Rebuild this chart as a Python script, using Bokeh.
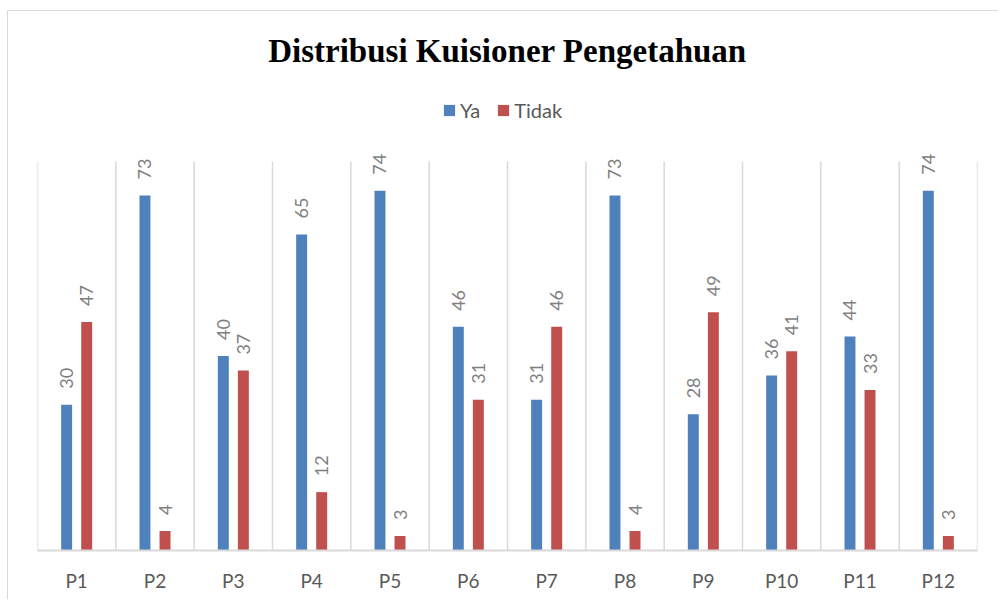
import numpy as np
from bokeh.plotting import figure
from bokeh.models import FixedTicker, ColumnDataSource, Legend, Label
from bokeh.core.properties import value
from bokeh.embed import file_html
from bokeh.resources import INLINE

categories = ["P1", "P2", "P3", "P4", "P5", "P6", "P7", "P8", "P9", "P10", "P11", "P12"]
ya = [30, 73, 40, 65, 74, 46, 31, 73, 28, 36, 44, 74]
tidak = [47, 4, 37, 12, 3, 31, 46, 4, 49, 41, 33, 3]
title_text = "Distribusi Kuisioner Pengetahuan"
y_axis_max = 80

centers = np.arange(len(categories)) + 0.5
bounds = np.arange(len(categories) + 1)
off = 0.128
src = ColumnDataSource(dict(
    xy=centers - off, xt=centers + off,
    ya=ya, tidak=tidak,
    ya_s=[str(v) for v in ya], tidak_s=[str(v) for v in tidak],
))

p = figure(width=991, height=589, x_range=(0, len(categories)), y_range=(0, 110.85),
           output_backend="svg", toolbar_location=None,
           min_border_left=29, min_border_right=22, min_border_top=0, min_border_bottom=50)
p.outline_line_color = None
p.styles = {"margin-left": "7px", "margin-top": "10px",
            "border-left": "1px solid #D9D9D9", "border-top": "1px solid #D9D9D9"}

p.segment(x0=bounds, y0=np.zeros(len(bounds)), x1=bounds, y1=np.full(len(bounds), y_axis_max),
          line_color="#D9D9D9", line_width=1.5)

r1 = p.vbar(x="xy", top="ya", width=0.14, source=src, fill_color="#4F81BD", line_color=None)
r2 = p.vbar(x="xt", top="tidak", width=0.14, source=src, fill_color="#C0504D", line_color=None)

for xcol, scol, ycol in (("xy", "ya_s", "ya"), ("xt", "tidak_s", "tidak")):
    p.text(x=xcol, y=ycol, text=scol, source=src, angle=np.pi / 2, text_align="left",
           text_baseline="middle", y_offset=-16, text_font=value("Lato"),
           text_font_size="18px", text_color="#7F7F7F")

p.yaxis.visible = False
p.ygrid.grid_line_color = None
p.xgrid.grid_line_color = None

ax = p.xaxis[0]
ax.ticker = FixedTicker(ticks=list(centers))
ax.major_label_overrides = {float(c): n for c, n in zip(centers, categories)}
ax.major_tick_line_color = None
ax.minor_tick_line_color = None
ax.axis_line_color = "#D9D9D9"
ax.axis_line_width = 2
ax.major_label_text_font = "Lato"
ax.major_label_text_font_size = "19px"
ax.major_label_text_color = "#595959"
ax.major_label_standoff = 12

legend = Legend(items=[("Ya", [r1]), ("Tidak", [r2])], orientation="horizontal",
                location=(405, 428), border_line_color=None, background_fill_alpha=0,
                label_text_font="Lato", label_text_font_size="20px",
                label_text_color="#595959", glyph_width=14, glyph_height=14,
                label_standoff=4, spacing=16, margin=0, padding=5)
p.add_layout(legend)

title = Label(x=len(categories) / 2, y=500, y_units="screen", text=title_text,
              text_align="center", text_baseline="middle",
              text_font="Liberation Serif", text_font_style="bold",
              text_font_size="33px", text_color="#000000")
p.add_layout(title)

open("out.html", "w").write(file_html(p, INLINE))
